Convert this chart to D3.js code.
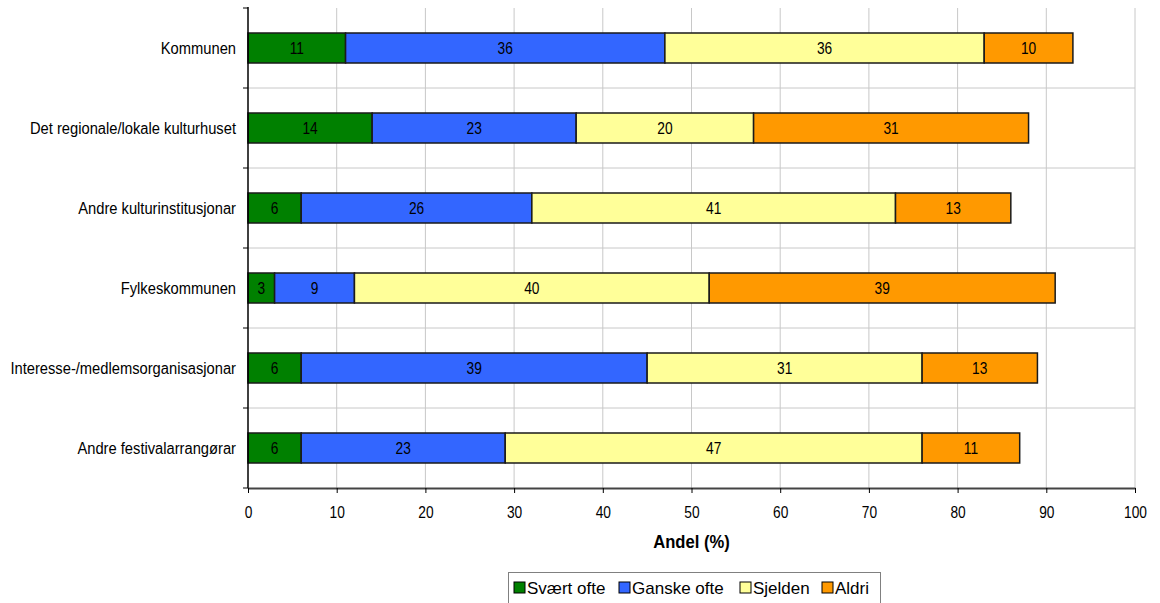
<!DOCTYPE html>
<html>
<head>
<meta charset="utf-8">
<script src="https://cdn.jsdelivr.net/npm/d3@7"></script>
<style>
  html, body { margin: 0; padding: 0; background: #fff; }
  svg { display: block; font-family: "Liberation Sans", Arial, sans-serif; }
</style>
</head>
<body>
<svg id="chart" width="1160" height="603"></svg>
<script>
// Categories (top to bottom) and the share (%) answering each frequency
const categories = [
  "Kommunen",
  "Det regionale/lokale kulturhuset",
  "Andre kulturinstitusjonar",
  "Fylkeskommunen",
  "Interesse-/medlemsorganisasjonar",
  "Andre festivalarrangørar"
];
const seriesNames = ["Svært ofte", "Ganske ofte", "Sjelden", "Aldri"];
const svaertOfte  = [11, 14, 6, 3, 6, 6];
const ganskeOfte  = [36, 23, 26, 9, 39, 23];
const sjelden     = [36, 20, 41, 40, 31, 47];
const aldri       = [10, 31, 13, 39, 13, 11];
const xTicks = [0, 10, 20, 30, 40, 50, 60, 70, 80, 90, 100];
const colors = ["#008000", "#3366FF", "#FFFF99", "#FF9900"];

const rows = categories.map((c, i) => ({
  category: c,
  "Svært ofte": svaertOfte[i],
  "Ganske ofte": ganskeOfte[i],
  "Sjelden": sjelden[i],
  "Aldri": aldri[i]
}));

const svg = d3.select("#chart");
const plot = { left: 248, right: 1135, top: 8, bottom: 488 };
const narrow = 0.86;   // horizontal squeeze for the condensed-looking text

const x = d3.scaleLinear().domain([0, 100]).range([plot.left, plot.right]);
const y = d3.scaleBand().domain(categories).range([plot.top, plot.bottom]).paddingInner(0.625).paddingOuter(0.3125);
const yOuter = d3.scaleBand().domain(categories).range([plot.top, plot.bottom]);
const color = d3.scaleOrdinal().domain(seriesNames).range(colors);

// Gridlines
const grid = svg.append("g");
grid.selectAll("line.v").data(xTicks.slice(1)).join("line")
  .attr("x1", d => x(d)).attr("x2", d => x(d))
  .attr("y1", plot.top).attr("y2", plot.bottom)
  .attr("stroke", "#c8c8c8").attr("stroke-width", 1);
grid.selectAll("line.h").data(categories.slice(1)).join("line")
  .attr("x1", plot.left).attr("x2", plot.right)
  .attr("y1", d => yOuter(d)).attr("y2", d => yOuter(d))
  .attr("stroke", "#c8c8c8").attr("stroke-width", 1);

// Stacked bars
const stack = d3.stack().keys(seriesNames)(rows);
const layers = svg.append("g").selectAll("g").data(stack).join("g")
  .attr("fill", d => color(d.key));
layers.selectAll("rect").data(d => d).join("rect")
  .attr("x", d => x(d[0]))
  .attr("y", d => y(d.data.category))
  .attr("width", d => x(d[1]) - x(d[0]))
  .attr("height", y.bandwidth())
  .attr("stroke", "#1a1a1a").attr("stroke-width", 1.5);

// Value labels
const labels = svg.append("g").attr("font-size", 16).attr("fill", "#000").attr("text-anchor", "middle");
stack.forEach(layer => {
  labels.selectAll(null).data(layer).join("text")
    .attr("transform", d => `translate(${(x(d[0]) + x(d[1])) / 2},${y(d.data.category) + y.bandwidth() / 2}) scale(${narrow},1)`)
    .attr("dy", "0.36em")
    .text(d => d[1] - d[0]);
});

// Left axis
svg.append("line")
  .attr("x1", plot.left).attr("x2", plot.left)
  .attr("y1", plot.top - 1).attr("y2", plot.bottom)
  .attr("stroke", "#000").attr("stroke-width", 1.5);
svg.append("g").selectAll("line").data([plot.top, ...categories.slice(1).map(d => yOuter(d)), plot.bottom]).join("line")
  .attr("x1", plot.left - 5).attr("x2", plot.left)
  .attr("y1", d => d).attr("y2", d => d)
  .attr("stroke", "#000");
svg.append("g").attr("font-size", 16).attr("text-anchor", "end")
  .selectAll("text").data(categories).join("text")
  .attr("transform", d => `translate(${plot.left - 12},${y(d) + y.bandwidth() / 2}) scale(0.92,1)`)
  .attr("dy", "0.36em")
  .text(d => d);

// Bottom axis
const xAxis = svg.append("g")
  .attr("transform", `translate(0,${plot.bottom})`)
  .call(d3.axisBottom(x).tickValues(xTicks).tickSize(5).tickSizeOuter(0));
xAxis.select(".domain").attr("stroke", "#444").attr("stroke-width", 2);
xAxis.selectAll(".tick line").attr("stroke", "#000");
xAxis.selectAll(".tick text")
  .attr("font-size", 16).attr("font-family", "Liberation Sans, Arial, sans-serif").attr("fill", "#000")
  .attr("y", 30).attr("dy", null)
  .attr("transform", `scale(${narrow},1)`);

svg.append("text")
  .attr("transform", `translate(${(plot.left + plot.right) / 2},548) scale(0.95,1)`)
  .attr("text-anchor", "middle")
  .attr("font-size", 17.5).attr("font-weight", "bold")
  .text("Andel (%)");

// Legend
const legend = svg.append("g");
legend.append("rect")
  .attr("x", 508.5).attr("y", 572.5).attr("width", 372).attr("height", 35)
  .attr("fill", "#fff").attr("stroke", "#808080");
const legendItems = [
  { name: seriesNames[0], x: 514 },
  { name: seriesNames[1], x: 619 },
  { name: seriesNames[2], x: 740 },
  { name: seriesNames[3], x: 822 }
];
const li = legend.selectAll("g.item").data(legendItems).join("g")
  .attr("transform", d => `translate(${d.x},582)`);
li.append("rect")
  .attr("width", 11).attr("height", 11)
  .attr("fill", d => color(d.name)).attr("stroke", "#000");
li.append("text")
  .attr("x", 13).attr("y", 6).attr("dy", "0.36em")
  .attr("font-size", 17)
  .text(d => d.name);
</script>
</body>
</html>
